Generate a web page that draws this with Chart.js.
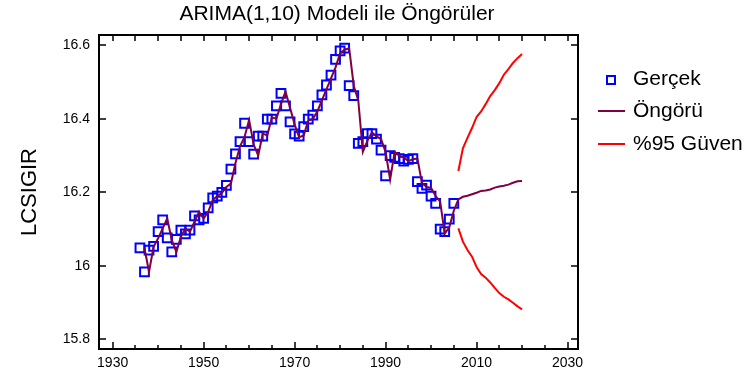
<!DOCTYPE html>
<html>
<head>
<meta charset="utf-8">
<script src="https://cdn.jsdelivr.net/npm/chart.js@4/dist/chart.umd.min.js"></script>
<style>
  body { margin: 0; background: #fff; }
  canvas { display: block; }
</style>
</head>
<body>
<canvas id="chart" width="749" height="380"></canvas>
<script>
// Observed series (Gerçek)
const actualYears = [
  1936, 1937, 1938, 1939,
  1940, 1941, 1942, 1943, 1944, 1945, 1946, 1947, 1948, 1949,
  1950, 1951, 1952, 1953, 1954, 1955, 1956, 1957, 1958, 1959,
  1960, 1961, 1962, 1963, 1964, 1965, 1966, 1967, 1968, 1969,
  1970, 1971, 1972, 1973, 1974, 1975, 1976, 1977, 1978, 1979,
  1980, 1981, 1982, 1983, 1984, 1985, 1986, 1987, 1988, 1989,
  1990, 1991, 1992, 1993, 1994, 1995, 1996, 1997, 1998, 1999,
  2000, 2001, 2002, 2003, 2004, 2005,
];
const actualValues = [
  16.049, 15.984, 16.043, 16.053,
  16.093, 16.125, 16.076, 16.038, 16.072, 16.097, 16.087, 16.097, 16.136, 16.125,
  16.129, 16.158, 16.185, 16.190, 16.200, 16.219, 16.263, 16.305, 16.338, 16.388,
  16.338, 16.304, 16.353, 16.353, 16.399, 16.399, 16.435, 16.469, 16.435, 16.392,
  16.359, 16.353, 16.379, 16.399, 16.410, 16.435, 16.465, 16.492, 16.519, 16.562,
  16.585, 16.592, 16.490, 16.463, 16.333, 16.338, 16.360, 16.360, 16.345, 16.315,
  16.245, 16.300, 16.295, 16.292, 16.285, 16.290, 16.292, 16.229, 16.211, 16.220,
  16.190, 16.170, 16.100, 16.093, 16.127, 16.170,
];

// One-step fitted values (Öngörü, in-sample part)
const fittedYears = [
  1937, 1938, 1939,
  1940, 1941, 1942, 1943, 1944, 1945, 1946, 1947, 1948, 1949,
  1950, 1951, 1952, 1953, 1954, 1955, 1956, 1957, 1958, 1959,
  1960, 1961, 1962, 1963, 1964, 1965, 1966, 1967, 1968, 1969,
  1970, 1971, 1972, 1973, 1974, 1975, 1976, 1977, 1978, 1979,
  1980, 1981, 1982, 1983, 1984, 1985, 1986, 1987, 1988, 1989,
  1990, 1991, 1992, 1993, 1994, 1995, 1996, 1997, 1998, 1999,
  2000, 2001, 2002, 2003, 2004, 2005,
];
const fittedValues = [
  16.048, 15.984, 16.052,
  16.075, 16.102, 16.129, 16.070, 16.038, 16.079, 16.102, 16.093, 16.120, 16.147,
  16.129, 16.147, 16.179, 16.190, 16.198, 16.215, 16.224, 16.280, 16.325, 16.351,
  16.397, 16.330, 16.300, 16.360, 16.355, 16.404, 16.400, 16.440, 16.474, 16.430,
  16.385, 16.350, 16.355, 16.395, 16.400, 16.420, 16.450, 16.480, 16.510, 16.540,
  16.578, 16.588, 16.592, 16.490, 16.450, 16.310, 16.340, 16.363, 16.352, 16.345,
  16.310, 16.235, 16.310, 16.300, 16.295, 16.285, 16.290, 16.292, 16.225, 16.215,
  16.212, 16.190, 16.175, 16.088, 16.105, 16.150,
];

// Out-of-sample forecast and 95% band
const forecastYears = [2006, 2007, 2008, 2009, 2010, 2011, 2012, 2013, 2014, 2015, 2016, 2017, 2018, 2019, 2020];
const forecastValues = [16.181, 16.188, 16.191, 16.195, 16.199, 16.204, 16.205, 16.208, 16.213, 16.216, 16.218, 16.221, 16.226, 16.230, 16.231];
const upperValues = [16.258, 16.320, 16.348, 16.375, 16.405, 16.420, 16.440, 16.462, 16.478, 16.497, 16.520, 16.535, 16.552, 16.565, 16.576];
const lowerValues = [16.102, 16.066, 16.043, 16.025, 15.997, 15.978, 15.968, 15.955, 15.940, 15.926, 15.916, 15.909, 15.900, 15.890, 15.882];

const xTicks = [1930, 1950, 1970, 1990, 2010, 2030];
const yTicks = [15.8, 16.0, 16.2, 16.4, 16.6];

const toPoints = (xs, ys) => xs.map((x, i) => ({ x: x, y: ys[i] }));

const BLUE = '#0000ff';
const MAROON = '#800040';
const RED = '#ff0000';
const FONT = "'Liberation Sans', Arial, sans-serif";

Chart.defaults.font.family = FONT;
Chart.defaults.color = '#000';

// Box, inward ticks, title, axis title and legend
const frame = {
  id: 'frame',
  afterDraw(chart) {
    const { ctx, chartArea: a, scales: { x, y } } = chart;
    ctx.save();
    ctx.strokeStyle = '#000';
    ctx.lineWidth = 2;
    ctx.strokeRect(a.left, a.top, a.right - a.left, a.bottom - a.top);

    ctx.lineWidth = 1.5;
    ctx.beginPath();
    for (let yr = 1930; yr <= 2030; yr += 5) {
      const px = Math.round(x.getPixelForValue(yr));
      const major = xTicks.includes(yr);
      ctx.moveTo(px, a.bottom);
      ctx.lineTo(px, a.bottom - (major ? 7 : 4));
      ctx.moveTo(px, a.top);
      ctx.lineTo(px, a.top + 6);
    }
    for (const v of yTicks) {
      const py = Math.round(y.getPixelForValue(v));
      ctx.moveTo(a.left, py);
      ctx.lineTo(a.left + 7, py);
      ctx.moveTo(a.right, py);
      ctx.lineTo(a.right - 7, py);
    }
    ctx.stroke();

    ctx.fillStyle = '#000';
    ctx.textBaseline = 'middle';
    ctx.textAlign = 'center';
    ctx.font = '21px ' + FONT;
    ctx.fillText('ARIMA(1,10) Modeli ile Öngörüler', 337, 14);

    ctx.save();
    ctx.translate(30, 192);
    ctx.rotate(-Math.PI / 2);
    ctx.font = '22px ' + FONT;
    ctx.fillText('LCSIGIR', 0, 0);
    ctx.restore();

    // legend
    ctx.textAlign = 'left';
    ctx.font = '21px ' + FONT;
    ctx.strokeStyle = BLUE;
    ctx.lineWidth = 2;
    ctx.strokeRect(607, 76, 8, 8);
    ctx.fillText('Gerçek', 633, 79);

    ctx.strokeStyle = MAROON;
    ctx.beginPath();
    ctx.moveTo(598, 111);
    ctx.lineTo(625, 111);
    ctx.stroke();
    ctx.fillText('Öngörü', 633, 111);

    ctx.strokeStyle = RED;
    ctx.beginPath();
    ctx.moveTo(598, 144);
    ctx.lineTo(625, 144);
    ctx.stroke();
    ctx.fillText('%95 Güven', 633, 144);
    ctx.restore();
  }
};

new Chart(document.getElementById('chart'), {
  type: 'line',
  data: {
    datasets: [
      {
        label: 'Öngörü',
        data: toPoints(fittedYears.concat(forecastYears), fittedValues.concat(forecastValues)),
        borderColor: MAROON,
        borderWidth: 2,
        pointRadius: 0,
        tension: 0,
        order: 0,
      },
      {
        label: 'Gerçek',
        data: toPoints(actualYears, actualValues),
        showLine: false,
        pointStyle: 'rect',
        pointRadius: 6.2,
        pointBorderWidth: 2,
        pointBorderColor: BLUE,
        pointBackgroundColor: 'rgba(0,0,0,0)',
        order: 1,
      },
      {
        label: '%95 Güven',
        data: toPoints(forecastYears, upperValues),
        borderColor: RED,
        borderWidth: 2,
        pointRadius: 0,
        tension: 0,
        order: 2,
      },
      {
        label: '%95 Güven (alt)',
        data: toPoints(forecastYears, lowerValues),
        borderColor: RED,
        borderWidth: 2,
        pointRadius: 0,
        tension: 0,
        order: 2,
      },
    ]
  },
  options: {
    responsive: false,
    animation: false,
    devicePixelRatio: 1,
    layout: { padding: { left: 0, right: 171, top: 35, bottom: 0 } },
    plugins: {
      legend: { display: false },
      title: { display: false },
      tooltip: { enabled: false },
    },
    scales: {
      x: {
        type: 'linear',
        min: 1927,
        max: 2032.3,
        grid: { display: false, drawTicks: false },
        border: { display: false },
        afterBuildTicks: (scale) => { scale.ticks = xTicks.map(v => ({ value: v })); },
        afterFit: (scale) => { scale.height = 31; },
        ticks: {
          padding: 6,
          maxRotation: 0,
          font: { size: 14 },
          color: '#000',
          callback: (v) => String(v),
        },
      },
      y: {
        min: 15.774,
        max: 16.628,
        grid: { display: false, drawTicks: false },
        border: { display: false },
        afterBuildTicks: (scale) => { scale.ticks = yTicks.map(v => ({ value: v })); },
        afterFit: (scale) => { scale.width = 99; },
        ticks: {
          padding: 9,
          font: { size: 14 },
          color: '#000',
          callback: (v) => (Math.abs(v - 16) < 1e-9 ? '16' : v.toFixed(1)),
        },
      },
    },
  },
  plugins: [frame],
});
</script>
</body>
</html>
